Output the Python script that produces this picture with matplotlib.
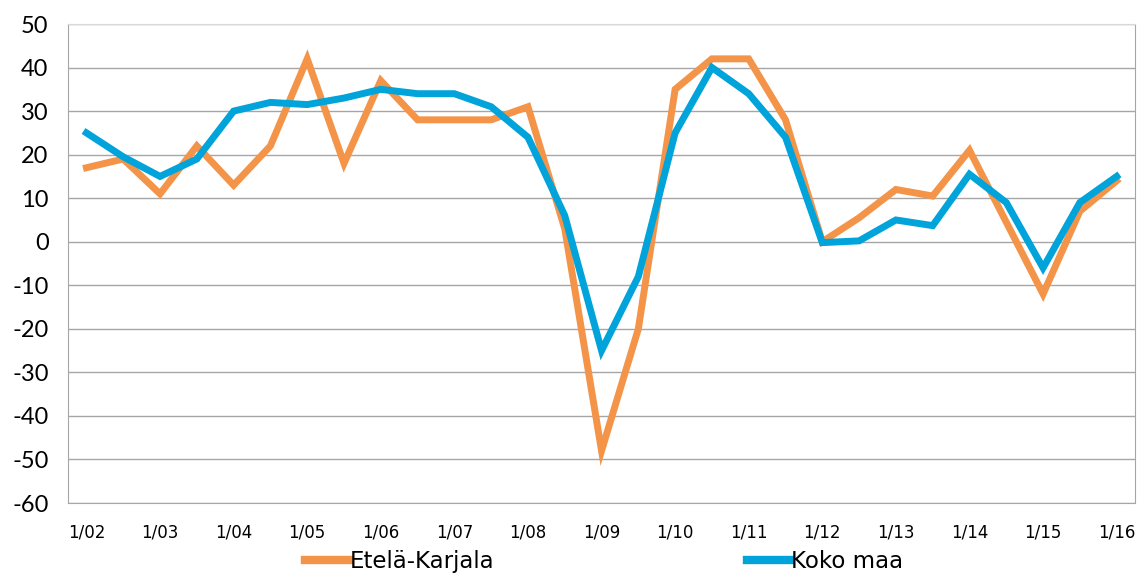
import numpy as np
import matplotlib
matplotlib.use("Agg")
import matplotlib.pyplot as plt

plt.rcParams["axes.unicode_minus"] = False

# half-year observations, 1/02 ... 1/16
periods = np.arange(29)
tick_labels = ["1/%02d" % y for y in range(2, 17)]

etela_karjala = [17, 19, 11, 22, 13, 22, 42, 18, 37, 28, 28, 28, 31, 3, -48, -20,
                 35, 42, 42, 28, 0, 5.5, 12, 10.5, 21, 4.5, -12, 7, 14]
koko_maa = [25, 19.5, 15, 19, 30, 32, 31.5, 33, 35, 34, 34, 31, 24, 6, -25, -8,
            25, 40, 34, 24, -0.2, 0.2, 5, 3.7, 15.5, 9, -6, 9, 15]

orange = "#F39449"
blue = "#00A3DA"

fig = plt.figure(figsize=(11.38, 5.76), dpi=100)
ax = fig.add_axes([0.0598, 0.1267, 0.9376, 0.8316])

ax.plot(periods, etela_karjala, color=orange, lw=5, solid_joinstyle="miter",
        label="Etelä-Karjala", zorder=3)
ax.plot(periods, koko_maa, color=blue, lw=5, solid_joinstyle="miter",
        label="Koko maa", zorder=4)

ax.set_xlim(-0.5, 28.5)
ax.set_ylim(-60, 50)
ax.set_yticks(np.arange(-60, 51, 10))
ax.set_xticks(periods[::2])
ax.set_xticklabels(tick_labels, family="Liberation Sans Narrow", fontsize=12)
for lab in ax.get_yticklabels():
    lab.set_family("Lato")
    lab.set_fontsize(17)
ax.tick_params(axis="both", length=0)
ax.tick_params(axis="x", pad=15)
ax.tick_params(axis="y", pad=14)

ax.grid(axis="y", color="#A6A6A6", lw=1)
ax.set_axisbelow(True)
for side in ["left", "right", "bottom"]:
    ax.spines[side].set_color("#A6A6A6")
ax.spines["top"].set_color("#D9D9D9")

leg = fig.legend(loc="center", bbox_to_anchor=(0.531, 0.026), ncol=2, frameon=False,
                 prop={"family": "Liberation Sans Narrow", "size": 16.5},
                 handlelength=1.9, handletextpad=0.05, columnspacing=11.0)
for h in leg.legend_handles:
    h.set_linewidth(6)

fig.savefig("out.png", dpi=100)
